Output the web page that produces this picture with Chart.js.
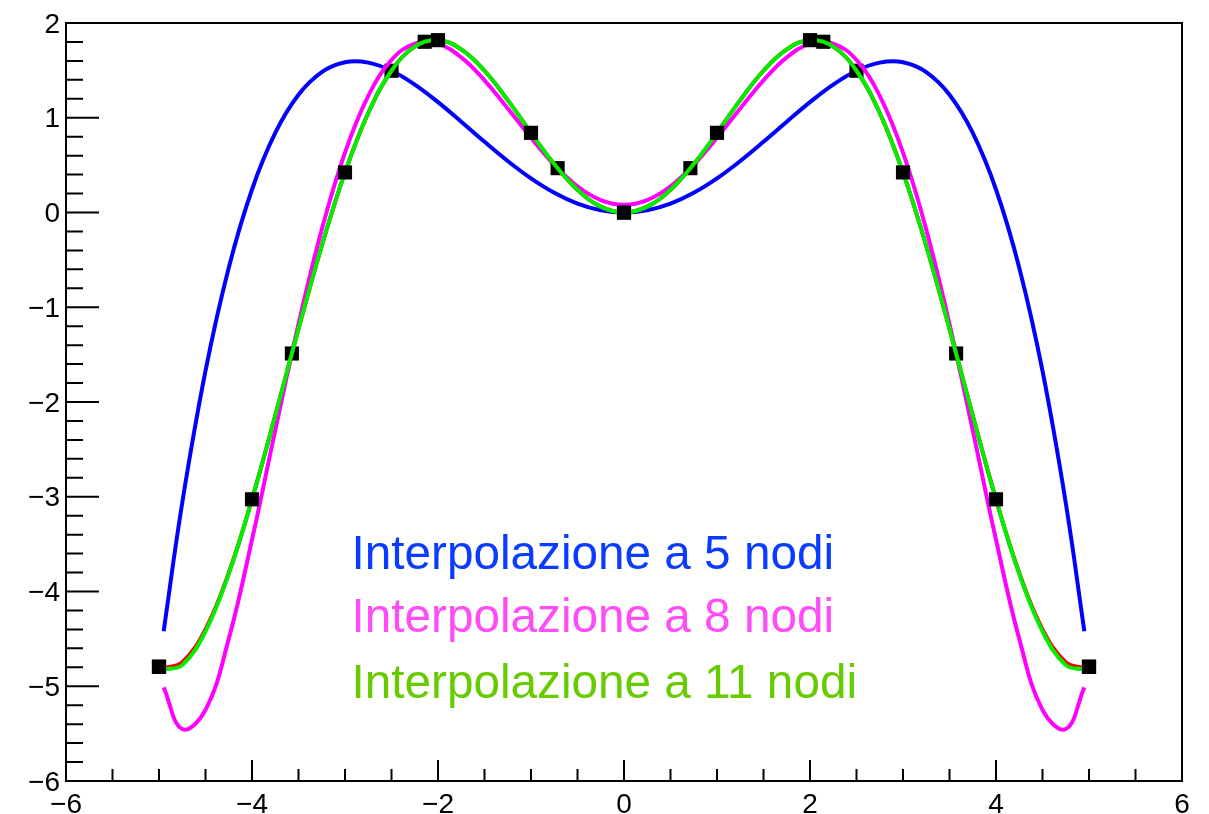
<!DOCTYPE html>
<html>
<head>
<meta charset="utf-8">
<title>Interpolazione polinomiale</title>
<script src="https://cdn.jsdelivr.net/npm/chart.js@4/dist/chart.umd.min.js"></script>
<style>
  html, body { margin: 0; padding: 0; background: #fff; }
  canvas { display: block; }
</style>
</head>
<body>
<canvas id="plot" width="1209" height="814"></canvas>
<script>
// sampling abscissae shared by all curves
const xs = [-4.95, -4.75, -4.5, -4.25, -4, -3.75, -3.5, -3.25, -3, -2.75, -2.5, -2.25, -2, -1.75, -1.5, -1.25, -1, -0.75, -0.5, -0.25,
  0, 0.25, 0.5, 0.75, 1, 1.25, 1.5, 1.75, 2, 2.25, 2.5, 2.75, 3, 3.25, 3.5, 3.75, 4, 4.25, 4.5, 4.75, 4.95];

// interpolating polynomial, 5 nodes
const interp5 = [-4.419, -3.063, -1.672, -0.583, 0.243, 0.840, 1.242, 1.481, 1.585, 1.582, 1.496, 1.350, 1.165, 0.958, 0.746, 0.543, 0.360, 0.208, 0.094, 0.024,
  0, 0.024, 0.094, 0.208, 0.360, 0.543, 0.746, 0.958, 1.165, 1.350, 1.496, 1.582, 1.585, 1.481, 1.242, 0.840, 0.243, -0.583, -1.672, -3.063, -4.419];

// interpolating polynomial, 8 nodes
const interp8 = [-5.012, -5.452, -5.249, -4.500, -3.454, -2.300, -1.177, -0.180, 0.632, 1.230, 1.609, 1.783, 1.780, 1.637, 1.395, 1.098, 0.789, 0.504, 0.277, 0.131,
  0.081, 0.131, 0.277, 0.504, 0.789, 1.098, 1.395, 1.637, 1.780, 1.783, 1.609, 1.230, 0.632, -0.180, -1.177, -2.300, -3.454, -4.500, -5.249, -5.452, -5.012];

// interpolating polynomial, 11 nodes
const interp11 = [-4.823, -4.777, -4.421, -3.813, -3.027, -2.143, -1.228, -0.352, 0.423, 1.050, 1.496, 1.751, 1.819, 1.722, 1.496, 1.186, 0.841, 0.511, 0.240, 0.062,
  0, 0.062, 0.240, 0.511, 0.841, 1.186, 1.496, 1.722, 1.819, 1.751, 1.496, 1.050, 0.423, -0.352, -1.228, -2.143, -3.027, -3.813, -4.421, -4.777, -4.823];

// the function itself
const funcY = [-4.811, -4.747, -4.399, -3.805, -3.027, -2.143, -1.228, -0.352, 0.423, 1.050, 1.496, 1.751, 1.819, 1.722, 1.496, 1.186, 0.841, 0.511, 0.240, 0.062,
  0, 0.062, 0.240, 0.511, 0.841, 1.186, 1.496, 1.722, 1.819, 1.751, 1.496, 1.050, 0.423, -0.352, -1.228, -2.143, -3.027, -3.805, -4.399, -4.747, -4.811];

// interpolation nodes
const nodes5X = [-5, -2.5, 0, 2.5, 5];
const nodes5Y = [-4.795, 1.496, 0, 1.496, -4.795];
const nodes8X = [-5, -3.571, -2.143, -0.714, 0.714, 2.143, 3.571, 5];
const nodes8Y = [-4.795, -1.488, 1.802, 0.468, 0.468, 1.802, -1.488, -4.795];
const nodes11X = [-5, -4, -3, -2, -1, 0, 1, 2, 3, 4, 5];
const nodes11Y = [-4.795, -3.027, 0.423, 1.819, 0.841, 0, 0.841, 1.819, 0.423, -3.027, -4.795];

const labels = ["Interpolazione a 5 nodi", "Interpolazione a 8 nodi", "Interpolazione a 11 nodi"];
const labelColors = ["#0a3cff", "#ff4cf6", "#66cc00"];

const FONT = '"Liberation Sans", Helvetica, Arial, sans-serif';

const pts = (X, Y) => X.map((x, i) => ({ x: x, y: Y[i] }));

function curve(ys, color, order) {
  return {
    data: pts(xs, ys),
    showLine: true,
    borderColor: color,
    borderWidth: 4,
    pointRadius: 0,
    tension: 0.4,
    fill: false,
    order: order
  };
}

function markers(X, Y, order) {
  return {
    data: pts(X, Y),
    showLine: false,
    pointStyle: "rect",
    pointRadius: 10,
    backgroundColor: "#000",
    borderWidth: 0,
    order: order
  };
}

const minus = v => String(v).replace("-", "\u2212");

// frame box with ticks drawn on the inside
const frameTicks = {
  id: "frameTicks",
  beforeDatasetsDraw(chart) {
    const { ctx, chartArea: a, scales: { x, y } } = chart;
    ctx.save();
    ctx.strokeStyle = "#000";
    ctx.lineWidth = 2;
    ctx.beginPath();
    for (let v = -6; v <= 6.001; v += 0.5) {
      const px = x.getPixelForValue(v);
      const len = Math.abs(v % 2) < 1e-6 ? 21 : 12;
      ctx.moveTo(px, a.bottom);
      ctx.lineTo(px, a.bottom - len);
    }
    for (let k = 0; k <= 40; k++) {
      const v = -6 + k * 0.2;
      const py = y.getPixelForValue(v);
      const len = k % 5 === 0 ? 33 : 17;
      ctx.moveTo(a.left, py);
      ctx.lineTo(a.left + len, py);
    }
    ctx.stroke();
    ctx.strokeRect(a.left, a.top, a.right - a.left, a.bottom - a.top);
    ctx.restore();
  },
  afterDatasetsDraw(chart) {
    const { ctx, scales: { x, y } } = chart;
    ctx.save();
    ctx.font = "47.7px " + FONT;
    ctx.textAlign = "left";
    ctx.textBaseline = "alphabetic";
    const lx = x.getPixelForValue(-2.93);
    const rows = [-3.76, -4.43, -5.12];
    labels.forEach((t, i) => {
      ctx.fillStyle = labelColors[i];
      ctx.fillText(t, lx, y.getPixelForValue(rows[i]));
    });
    ctx.restore();
  }
};

new Chart(document.getElementById("plot"), {
  type: "scatter",
  data: {
    datasets: [
      curve(interp5, "#0000ff", 7),
      markers(nodes5X, nodes5Y, 6),
      curve(interp8, "#ff00ff", 5),
      markers(nodes8X, nodes8Y, 4),
      curve(funcY, "#ff0000", 3),
      curve(interp11, "#00ee00", 2),
      markers(nodes11X, nodes11Y, 1)
    ]
  },
  options: {
    responsive: false,
    animation: false,
    devicePixelRatio: 1,
    layout: { padding: { left: 0, right: 27, top: 23, bottom: 0 } },
    plugins: { legend: { display: false }, tooltip: { enabled: false } },
    scales: {
      x: {
        type: "linear",
        min: -6,
        max: 6,
        grid: { display: false, drawTicks: false },
        border: { display: false },
        ticks: {
          stepSize: 2,
          padding: 7,
          color: "#000",
          maxRotation: 0,
          autoSkip: false,
          font: { size: 28, family: FONT },
          callback: minus
        },
        afterFit(s) { s.height = 33; }
      },
      y: {
        type: "linear",
        min: -6,
        max: 2,
        grid: { display: false, drawTicks: false },
        border: { display: false },
        ticks: {
          stepSize: 1,
          padding: 6,
          labelOffset: 2,
          color: "#000",
          autoSkip: false,
          font: { size: 28, family: FONT },
          callback: minus
        },
        afterFit(s) { s.width = 66; }
      }
    }
  },
  plugins: [frameTicks]
});
</script>
</body>
</html>
